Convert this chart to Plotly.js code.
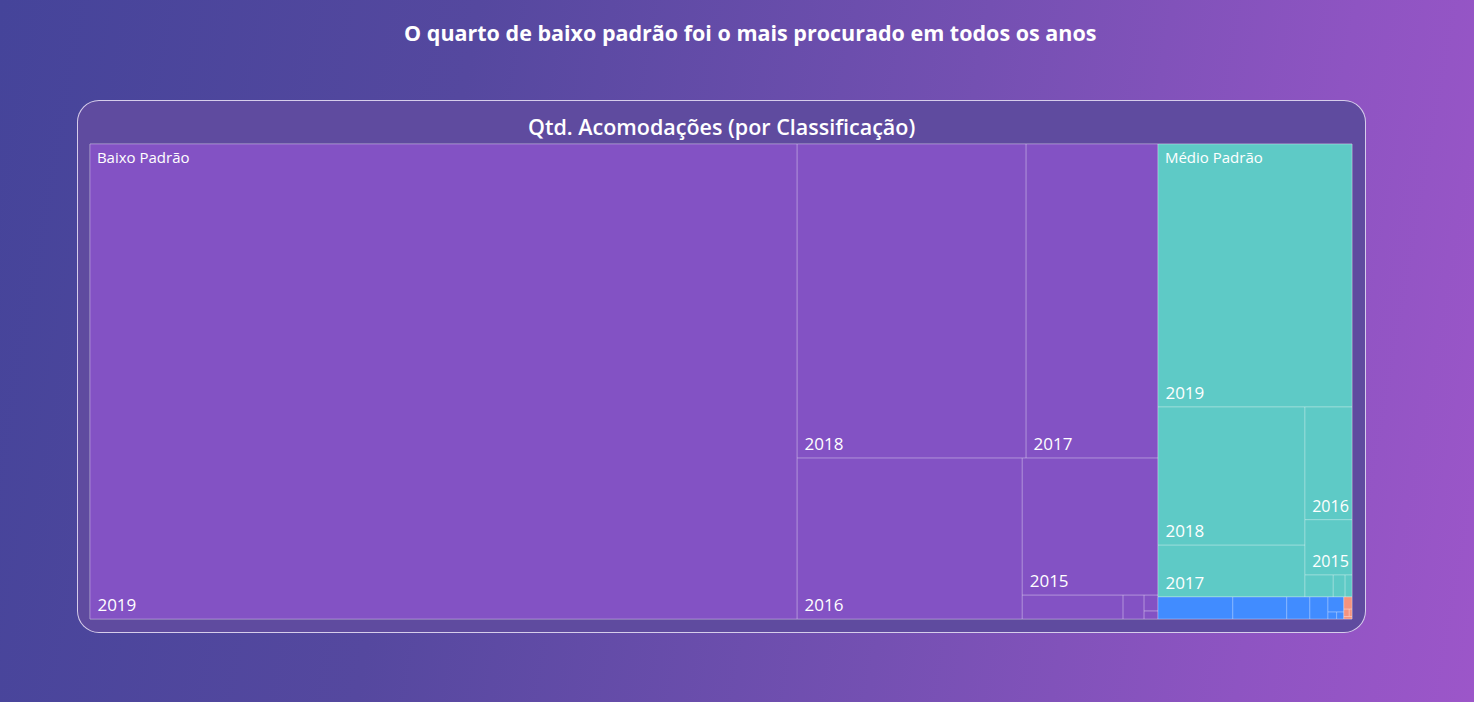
<!DOCTYPE html>
<html>
<head>
<meta charset="utf-8">
<script src="https://cdn.plot.ly/plotly-3.0.1.min.js"></script>
<style>
  html, body { margin: 0; padding: 0; width: 1474px; height: 702px; overflow: hidden; }
  body { background: linear-gradient(100deg, #45449a 0%, #55489f 30%, #7450b2 62%, #8e54c2 85%, #9c56c9 100%); position: relative; font-family: "Open Sans", sans-serif; }
  #card { position: absolute; left: 77px; top: 100px; width: 1287px; height: 531px; border: 1px solid rgba(235,228,248,0.85); border-radius: 22px; background: #5f4b9f; }
  #chart { position: absolute; left: 0; top: 0; width: 1474px; height: 702px; }
</style>
</head>
<body>
<div id="card"></div>
<div id="chart"></div>
<script>
// ---- data ----
const classes = ['Baixo Padrão', 'Médio Padrão', 'Alto Padrão', 'Luxo'];
const classColors = ['#8352C4', '#5ECAC6', '#418CFF', '#F4937E'];

const baixoYears  = ['2019', '2018', '2017', '2016', '2015', '2014', '2013', '2012', '2011'];
const baixoValues = [33580, 7190, 4140, 3620, 1860, 240, 50, 22, 11];

const medioYears  = ['2019', '2018', '2017', '2016', '2015', '2014', '2013', '2012'];
const medioValues = [5100, 2030, 760, 530, 260, 62, 26, 15];

const altoYears   = ['2019', '2018', '2017', '2016', '2015', '2014', '2013'];
const altoValues  = [165, 119, 51, 40, 24, 6, 5];

const luxoYears   = ['2019', '2018', '2017', '2016'];
const luxoValues  = [10, 4, 2, 2];

const chartTitle = 'O quarto de baixo padrão foi o mais procurado em todos os anos';
const visualTitle = 'Qtd. Acomodações (por Classificação)';

// ---- build hierarchy ----
const yearSets = [baixoYears, medioYears, altoYears, luxoYears];
const valueSets = [baixoValues, medioValues, altoValues, luxoValues];
const minLabelValue = 260;
const NB = '\u00a0';

const ids = [], labels = [], parents = [], values = [], colors = [], leafText = [], headText = [];
classes.forEach((c, ci) => {
  ids.push(c); labels.push(c); parents.push(''); values.push(0); colors.push(classColors[ci]);
  leafText.push(''); headText.push('');
  yearSets[ci].forEach((y, yi) => {
    const v = valueSets[ci][yi];
    ids.push(c + '/' + y); labels.push(y); parents.push(c); values.push(v); colors.push(classColors[ci]);
    leafText.push(v >= minLabelValue ? NB + y : '');
    headText.push(yi === 0 && v >= minLabelValue ? NB + c : '');
  });
});

const fontFamily = '"Segoe UI", "Open Sans", sans-serif';
const common = {
  type: 'treemap', ids: ids, labels: labels, parents: parents, values: values,
  branchvalues: 'remainder', sort: true,
  tiling: { packing: 'squarify', squarifyratio: 1.618034, pad: 0 },
  pathbar: { visible: false },
  texttemplate: '%{text}'
};

const trace1 = Object.assign({}, common, {
  text: leafText,
  textposition: 'bottom left',
  textfont: { family: fontFamily, size: 17, color: '#ffffff' },
  marker: { colors: colors, depthfade: false, line: { color: 'rgba(255,255,255,0.28)', width: 1 }, pad: { t: 0, l: 0, r: 0, b: 0 } },
  hovertemplate: '%{parent} %{label}: %{value}<extra></extra>'
});

const trace2 = Object.assign({}, common, {
  text: headText,
  textposition: 'top left',
  textfont: { family: fontFamily, size: 15, color: '#ffffff' },
  marker: { colors: ids.map(() => 'rgba(0,0,0,0)'), depthfade: false, line: { color: 'rgba(0,0,0,0)', width: 0 }, pad: { t: 0, l: 0, r: 0, b: 0 } },
  hoverinfo: 'skip'
});

const layout = {
  width: 1474, height: 702,
  margin: { l: 90, r: 122, t: 144, b: 83 },
  paper_bgcolor: 'rgba(0,0,0,0)', plot_bgcolor: 'rgba(0,0,0,0)',
  showlegend: false,
  title: { text: chartTitle, x: 0.509, xref: 'container', xanchor: 'center', y: 0.953, yref: 'container', yanchor: 'middle',
           font: { family: fontFamily, size: 21.5, color: '#ffffff', weight: 700 } },
  annotations: [{ text: visualTitle, xref: 'paper', yref: 'paper', x: 0.5, y: 1.036, xanchor: 'center', yanchor: 'middle',
                  showarrow: false, font: { family: fontFamily, size: 21.5, color: '#ffffff', weight: 600 } }]
};

Plotly.newPlot('chart', [trace1, trace2], layout, { displayModeBar: false });
</script>
</body>
</html>
